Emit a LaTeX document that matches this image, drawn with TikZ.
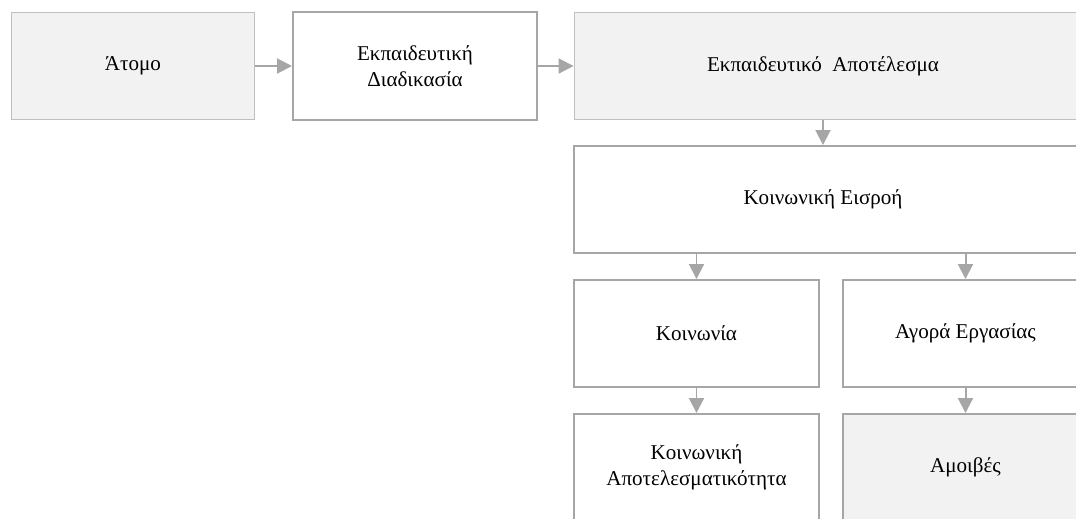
\documentclass[tikz,border=0pt]{standalone}
\usepackage{fontspec}
\setmainfont{Liberation Serif}
\usepackage{xcolor}
\usetikzlibrary{positioning, arrows.meta}

\definecolor{boxgray}{HTML}{F2F2F2}
\definecolor{lightline}{HTML}{BFBFBF}
\definecolor{darkline}{HTML}{A6A6A6}

\tikzset{
  every node/.style={font=\fontsize{12}{14.5}\selectfont, align=center, inner sep=0pt},
  shaded/.style={draw=lightline, line width=0.57pt, fill=boxgray, minimum width=4.88cm, minimum height=2.16cm},
  plain/.style={draw=darkline, line width=1.13pt, fill=white, minimum width=4.9cm, minimum height=2.14cm},
  link/.style={draw=darkline, line width=1.13pt, -{Triangle[length=0.3cm, width=0.3cm]}}
}

\begin{document}
\begin{tikzpicture}[x=0.02cm, y=-0.02cm]
            \useasboundingbox (0, 0) rectangle (1076, 518);
            \clip (0, 0) rectangle (1076, 518);
            % top row
            \node [shaded] (atom) at (133, 66) {Άτομο};
            \node [plain, minimum width=4.88cm, minimum height=2.16cm] (proc) at (415, 66) {Εκπαιδευτική\\Διαδικασία};
            \node [shaded, minimum width=10.28cm, label={[xshift=-0.16cm]center:Εκπαιδευτικό\ \ Αποτέλεσμα}] (outc) at (831, 66) {};
            % lower part
            \node [plain, minimum width=10.28cm, label={[xshift=-0.16cm]center:Κοινωνική Εισροή}] (insrc) at (831, 199.5) {};
            \node [plain] (soc) at (696.5, 333.5) {Κοινωνία};
            \node [plain] (labour) at (965.5, 333.5) {Αγορά Εργασίας};
            \node [plain] (effic) at (696.5, 467.5) {Κοινωνική\\Αποτελεσματικότητα};
            \node [plain, fill=boxgray] (pay) at (965.5, 467.5) {Αμοιβές};
            \draw[link] (atom) -- (proc);
            \draw[link] (proc) -- (outc);
            \draw[link] ([xshift=-0.16cm]outc.south) -- ([xshift=-0.16cm]insrc.north);
            \draw[link] (insrc.south -| soc) -- (soc);
            \draw[link] (insrc.south -| labour) -- (labour);
            \draw[link] (soc) -- (effic);
            \draw[link] (labour) -- (pay);
        \end{tikzpicture}
\end{document}
